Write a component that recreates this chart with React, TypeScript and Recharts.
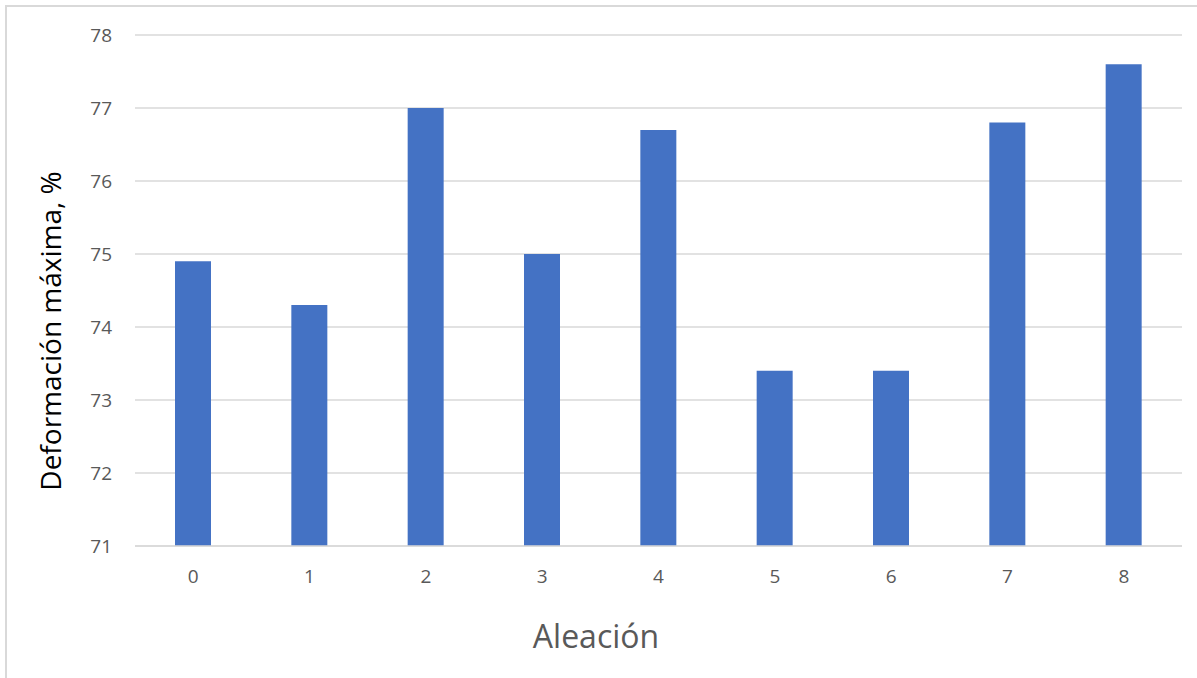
import { Bar, BarChart, CartesianGrid, XAxis, YAxis } from "recharts";

const categories = ["0", "1", "2", "3", "4", "5", "6", "7", "8"];
const deformacion = [74.9, 74.3, 77.0, 75.0, 76.7, 73.4, 73.4, 76.8, 77.6];
const yTicks = [71, 72, 73, 74, 75, 76, 77, 78];

const data = categories.map((c, i) => ({ aleacion: c, valor: deformacion[i] }));

const FONT = "'Open Sans', 'Noto Sans', sans-serif";

const YLabel = () => (
  <text
    x={61}
    y={331}
    transform="rotate(-90 61 331)"
    textAnchor="middle"
    fontFamily={FONT}
    fontSize={28}
    fill="#000"
  >
    Deformación máxima, %
  </text>
);

const XLabel = () => (
  <text x={596} y={648} textAnchor="middle" fontFamily={FONT} fontSize={32} fill="#595959">
    Aleación
  </text>
);

export default function App() {
  return (
    <div style={{ position: "absolute", left: 0, top: 0, width: 1197, height: 678, background: "#fff", overflow: "hidden" }}>
      <div
        style={{
          position: "absolute",
          left: 5,
          top: 5,
          width: 1200,
          height: 700,
          border: "2px solid #d9d9d9",
          boxSizing: "border-box",
        }}
      />
      <div style={{ position: "absolute", left: 0, top: 0 }}>
        <BarChart
          width={1197}
          height={678}
          data={data}
          margin={{ top: 35, right: 15, left: 0, bottom: 102 }}
          barSize={36}
        >
          <CartesianGrid vertical={false} stroke="#d9d9d9" strokeWidth={1.5} />
          <XAxis
            dataKey="aleacion"
            height={30}
            tickLine={false}
            axisLine={{ stroke: "#d9d9d9", strokeWidth: 1.5 }}
            tick={{ fontSize: 19, fill: "#595959", fontFamily: FONT }}
            tickMargin={18}
            label={<XLabel />}
          />
          <YAxis
            width={135}
            domain={[71, 78]}
            ticks={yTicks}
            tickLine={false}
            axisLine={false}
            tick={{ fontSize: 19, fill: "#595959", fontFamily: FONT }}
            tickMargin={17}
            label={<YLabel />}
          />
          <Bar dataKey="valor" fill="#4472C4" isAnimationActive={false} />
        </BarChart>
      </div>
    </div>
  );
}
